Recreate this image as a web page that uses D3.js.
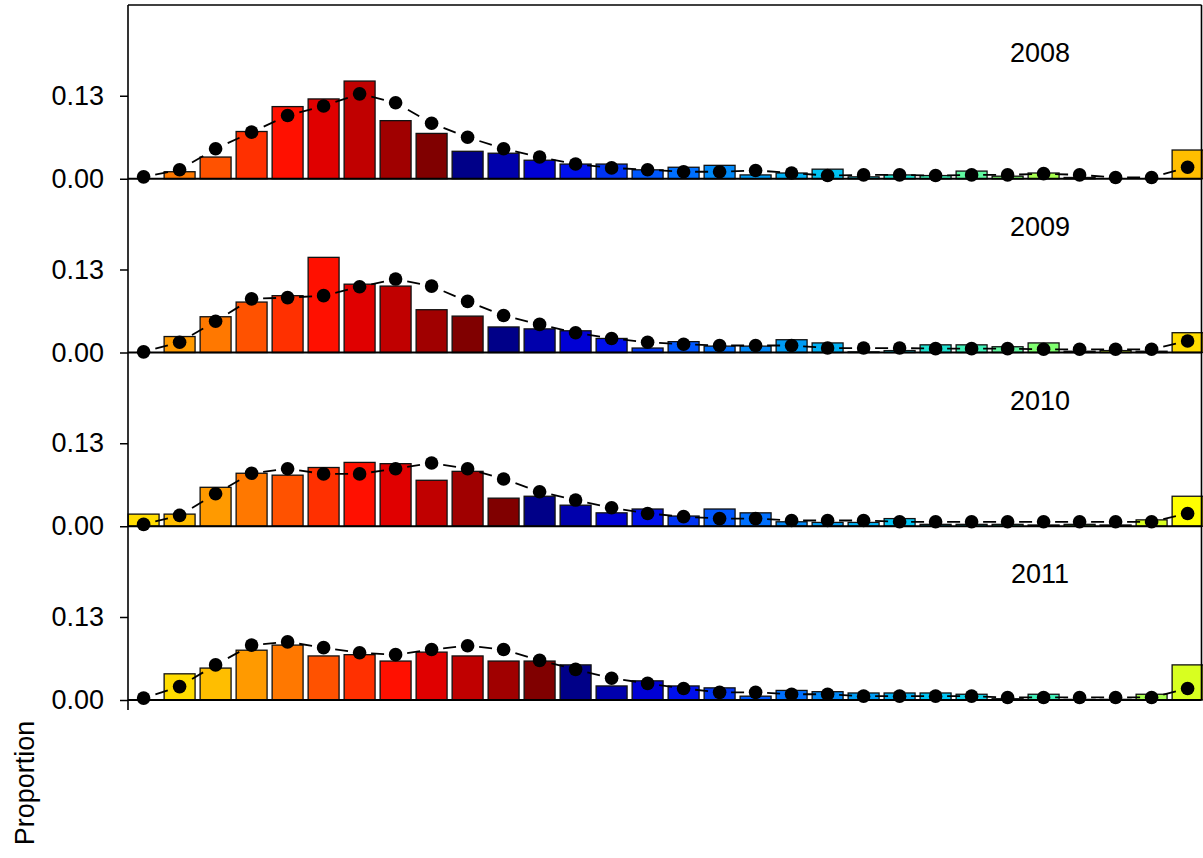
<!DOCTYPE html>
<html><head><meta charset="utf-8">
<script src="https://cdn.jsdelivr.net/npm/d3@7"></script>
<style>
body{margin:0;background:#fff}
svg{display:block}
text{font-family:"Liberation Sans",Arial,Helvetica,sans-serif;fill:#000}
</style>
</head><body>
<svg id="chart" width="1203" height="858"></svg>
<script>
// ---------------- data ----------------
const ages = [1,2,3,4,5,6,7,8,9,10,11,12,13,14,15,16,17,18,19,20,21,22,23,24,25,26,27,28,29,30];
const years = [2008, 2009, 2010, 2011];
const yTicks = [0, 0.13];
const yLabel = "Proportion";

// observed proportions (bars)
const obs2008 = [0,0.011,0.034,0.074,0.113,0.125,0.153,0.091,0.071,0.043,0.040,0.029,0.023,0.023,0.014,0.018,0.021,0.006,0.009,0.015,0.003,0.006,0.005,0.012,0.004,0.009,0.002,0,0,0.045];
const obs2009 = [0,0.025,0.056,0.079,0.089,0.149,0.107,0.104,0.067,0.057,0.040,0.037,0.034,0.022,0.007,0.017,0.010,0.010,0.020,0.015,0.001,0.003,0.012,0.012,0.009,0.015,0.002,0.003,0.002,0.031];
const obs2010 = [0.019,0.019,0.061,0.083,0.080,0.092,0.100,0.098,0.072,0.086,0.044,0.047,0.033,0.021,0.027,0.016,0.027,0.021,0.007,0.006,0.006,0.012,0.003,0.003,0.003,0.002,0.003,0.002,0.010,0.047];
const obs2011 = [0,0.041,0.050,0.078,0.086,0.069,0.071,0.061,0.075,0.069,0.061,0.061,0.055,0.022,0.030,0.022,0.019,0.006,0.015,0.013,0.011,0.011,0.011,0.009,0.002,0.009,0.001,0.001,0.009,0.055];

// fitted proportions (points + dashed line)
const fit2008 = [0.003,0.014,0.047,0.073,0.099,0.114,0.133,0.119,0.087,0.065,0.047,0.034,0.023,0.017,0.014,0.011,0.011,0.013,0.009,0.005,0.006,0.006,0.005,0.006,0.006,0.008,0.006,0.002,0.002,0.018];
const fit2009 = [0.001,0.016,0.049,0.084,0.086,0.089,0.103,0.115,0.104,0.080,0.058,0.044,0.031,0.022,0.016,0.013,0.011,0.011,0.011,0.007,0.007,0.007,0.006,0.006,0.006,0.005,0.005,0.005,0.005,0.018];
const fit2010 = [0.003,0.017,0.051,0.083,0.090,0.082,0.082,0.090,0.099,0.090,0.074,0.054,0.041,0.029,0.020,0.015,0.012,0.012,0.009,0.009,0.009,0.007,0.007,0.007,0.007,0.007,0.007,0.007,0.007,0.020];
const fit2011 = [0.003,0.021,0.055,0.086,0.091,0.082,0.074,0.071,0.079,0.085,0.079,0.062,0.048,0.034,0.026,0.018,0.012,0.012,0.009,0.009,0.006,0.006,0.006,0.006,0.004,0.004,0.004,0.004,0.004,0.018];

const observed = [obs2008, obs2009, obs2010, obs2011];
const fitted = [fit2008, fit2009, fit2010, fit2011];

// cohort colour cycle (30 colours), first entry = cohort 1980
const cohortPalette = ["#FFFF00","#D8FF20","#A8FF50","#80FF70","#60F8A0","#40F0B8","#20E0D0","#10D0E8","#00C4F4","#00B0F4",
  "#009CF4","#0088F8","#0070FF","#0058FF","#0034F4","#0010EC","#0000D4","#0000AC","#000088","#800000",
  "#A00000","#C00000","#E00000","#FF1000","#FF3000","#FF5200","#FF7800","#FF9A00","#FFBE00","#FFDC00"];
const paletteStartCohort = 1980;

// ---------------- layout ----------------
const svg = d3.select("#chart");
const frameLeft = 128, frameRight = 1201.5, frameTop = 5, panelH = 173.75;
const pxPerUnit = 638.5;
const yMax = panelH / pxPerUnit;

const x = d3.scaleBand().domain(ages).range([125.6, 1205.6]).paddingInner(0.14).paddingOuter(0.07);
const y = d3.scaleLinear().domain([0, yMax]).range([panelH, 0]);

function cohortColor(year, age) {
  const c = year - age;
  const n = cohortPalette.length;
  return cohortPalette[(((c - paletteStartCohort) % n) + n) % n];
}

years.forEach((yr, i) => {
  const g = svg.append("g").attr("transform", `translate(0,${frameTop + i * panelH})`);
  const obs = observed[i], fit = fitted[i];

  // bars
  g.selectAll("rect.bar").data(ages).enter().append("rect")
    .attr("class", "bar")
    .attr("x", a => x(a))
    .attr("width", x.bandwidth())
    .attr("y", (a, k) => y(obs[k]))
    .attr("height", (a, k) => y(0) - y(obs[k]))
    .attr("fill", a => cohortColor(yr, a))
    .attr("stroke", "#111")
    .attr("stroke-width", 1.3);

  // dashed fitted line: one centred dash per segment
  const pts = ages.map((a, k) => [x(a) + x.bandwidth() / 2, y(fit[k])]);
  for (let k = 0; k < pts.length - 1; k++) {
    const [x1, y1] = pts[k], [x2, y2] = pts[k + 1];
    const L = Math.hypot(x2 - x1, y2 - y1);
    const dash = 13;
    const gap = Math.max(0, (L - dash) / 2);
    g.append("line")
      .attr("x1", x1).attr("y1", y1).attr("x2", x2).attr("y2", y2)
      .attr("stroke", "#000").attr("stroke-width", 1.8)
      .attr("stroke-dasharray", `0,${gap},${dash},${L}`);
  }

  // points
  g.selectAll("circle.pt").data(pts).enter().append("circle")
    .attr("class", "pt")
    .attr("cx", d => d[0]).attr("cy", d => d[1])
    .attr("r", 6.8).attr("fill", "#000");

  // baseline / panel bottom
  g.append("line")
    .attr("x1", frameLeft).attr("x2", frameRight)
    .attr("y1", y(0)).attr("y2", y(0))
    .attr("stroke", "#000").attr("stroke-width", 2);

  // y axis
  const ax = g.append("g").attr("transform", `translate(${frameLeft},0)`)
    .call(d3.axisLeft(y).tickValues(yTicks).tickFormat(d3.format(".2f")).tickSize(8).tickSizeOuter(0).tickPadding(16));
  ax.select(".domain").remove();
  ax.selectAll(".tick line").attr("stroke", "#000").attr("stroke-width", 1.5);
  ax.selectAll(".tick text").attr("font-size", 27).attr("font-family", '"Liberation Sans",Arial,sans-serif').attr("fill", "#000");

  // year label
  g.append("text")
    .attr("x", 1040).attr("y", 57)
    .attr("text-anchor", "middle")
    .attr("font-size", 27)
    .text(yr);
});

// frame
const frameBottom = frameTop + years.length * panelH;
svg.append("line").attr("x1", frameLeft).attr("x2", frameLeft).attr("y1", frameTop).attr("y2", frameBottom + 10)
  .attr("stroke", "#000").attr("stroke-width", 1.6);
svg.append("line").attr("x1", frameLeft).attr("x2", frameRight).attr("y1", frameTop).attr("y2", frameTop)
  .attr("stroke", "#000").attr("stroke-width", 1.6);
svg.append("line").attr("x1", frameRight).attr("x2", frameRight).attr("y1", frameTop).attr("y2", frameBottom)
  .attr("stroke", "#000").attr("stroke-width", 1.6);

// y label
svg.append("text")
  .attr("transform", "translate(34,783) rotate(-90)")
  .attr("text-anchor", "middle")
  .attr("font-size", 27)
  .text(yLabel);
</script>
</body></html>
